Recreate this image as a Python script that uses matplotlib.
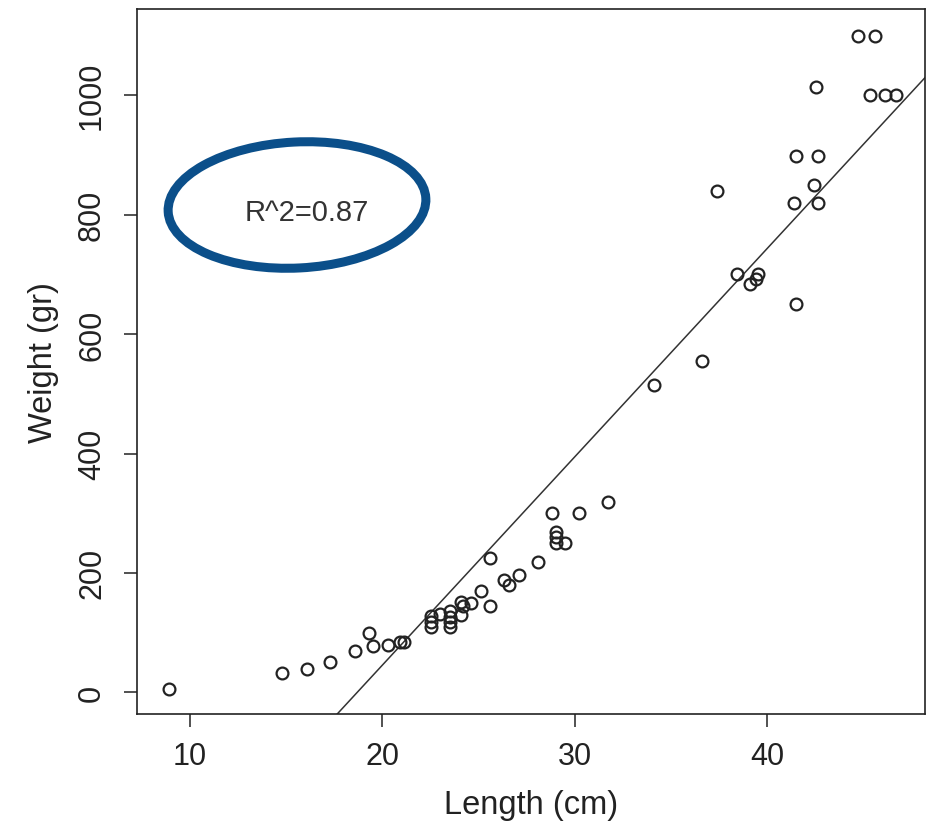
import numpy as np
import matplotlib
matplotlib.use("Agg")
import matplotlib.pyplot as plt
import matplotlib.patches as mp
from matplotlib.transforms import IdentityTransform

# fish length (cm) and weight (gr)
length = [8.9, 14.8, 16.1, 17.3, 18.6, 19.3, 19.5, 20.3, 20.9, 21.1,
          22.5, 22.5, 22.5, 23.0, 23.5, 23.5, 23.5, 23.5, 24.1, 24.2,
          24.1, 24.6, 25.1, 25.6, 25.6, 26.3, 26.6, 27.1, 28.1, 28.8,
          29.0, 29.0, 29.0, 29.5, 30.2, 31.7, 34.1, 36.6, 37.4, 38.4,
          39.1, 39.4, 39.5, 41.4, 41.5, 41.5, 42.4, 42.5, 42.6, 42.6,
          44.7, 45.6, 45.3, 46.1, 46.7]
weight = [5, 32, 39, 50, 69, 99, 78, 80, 85, 84,
          128, 117, 109, 131, 137, 126, 117, 109, 151, 145,
          129, 150, 169, 225, 145, 189, 179, 196, 219, 300,
          268, 260, 250, 250, 300, 319, 514, 555, 839, 700,
          684, 692, 700, 820, 899, 650, 849, 1014, 899, 820,
          1099, 1099, 1000, 1000, 1000]

xticks = [10, 20, 30, 40]
yticks = [0, 200, 400, 600, 800, 1000]
r2_label = "R^2=0.87"

plt.rcParams['font.family'] = ['Liberation Sans', 'DejaVu Sans']

fig = plt.figure(figsize=(9.4, 8.29), dpi=100)
ax = fig.add_axes([0.1457, 0.1375, 0.8383, 0.8504])

x = np.array(length)
y = np.array(weight)
ax.plot(x, y, 'o', mfc='none', mec='#222222', ms=8.5, mew=1.6, zorder=3)

# least squares line through the points
slope, icpt = np.polyfit(x, y, 1)
xl = np.array([0, 60])
ax.plot(xl, slope * xl + icpt, color='#333333', lw=1.1, zorder=2)

ax.set_xlim(7.25, 48.18)
ax.set_ylim(-36.3, 1144.5)
ax.set_xticks(xticks)
ax.set_yticks(yticks)
ax.tick_params(axis='both', length=9.5, width=1.1, color='#222222',
               labelsize=22, labelcolor='#222222')
ax.tick_params(axis='x', pad=10)
ax.tick_params(axis='y', pad=12)
for lab in ax.get_yticklabels():
    lab.set_rotation(90)
    lab.set_va('center')
for sp in ax.spines.values():
    sp.set_linewidth(1.2)
    sp.set_color('#222222')

ax.set_xlabel("Length (cm)", fontsize=23.5, labelpad=13, color='#222222')
ax.set_ylabel("Weight (gr)", fontsize=23.5, labelpad=13, color='#222222')

ax.text(16.08, 804, r2_label, fontsize=21, ha='center', va='center', color='#333333')

# hand drawn blue ring around the R^2 note (pixel space)
ring = mp.Ellipse((297, 829 - 206), 258, 126, angle=3, fill=False,
                  edgecolor='#0b4f8a', lw=6.5, transform=IdentityTransform())
fig.patches.append(ring)

fig.savefig("out.png", dpi=100)
